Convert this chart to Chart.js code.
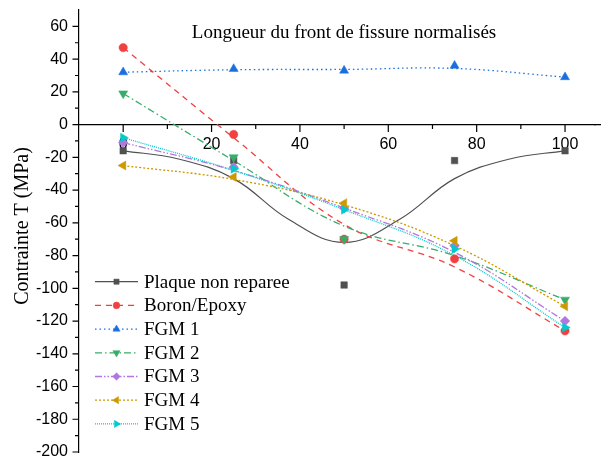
<!DOCTYPE html>
<html><head><meta charset="utf-8">
<script src="https://cdn.jsdelivr.net/npm/chart.js@4.4.0/dist/chart.umd.min.js"></script>
<style>html,body{margin:0;padding:0;background:#fff;overflow:hidden}#wrap{width:601px;height:459px;position:relative}</style>
</head><body><div id="wrap"><canvas id="c"></canvas></div>
<script>
// ---- data ----
const xValues = [0, 25, 50, 75, 100];
const seriesNames = ['Plaque non reparee', 'Boron/Epoxy', 'FGM 1', 'FGM 2', 'FGM 3', 'FGM 4', 'FGM 5'];
const plaque = [-16, -22, -98, -22, -16];
const boron  = [47, -6, -70, -82, -126];
const fgm1   = [32, 34, 33, 36, 29];
const fgm2   = [19, -20, -70, -75, -107];
const fgm3   = [-11, -26, -51, -74, -120];
const fgm4   = [-25, -32, -48, -71, -111];
const fgm5   = [-8, -27, -52, -76, -124];
// smoothed (B-spline) curves as drawn in the picture, read at these x positions
const curveX = [0, 25, 50, 75, 100];
const curveXPlaque = [0, 12.5, 25, 37.5, 50, 62.5, 75, 87.5, 100];
const curvePlaque = [-16, -21, -33, -58, -72, -58, -33, -21, -16];
const curveBoron  = [47, -8, -61, -87, -126];
const curveFgm1   = [32, 33.5, 33.7, 34.3, 29];
const curveFgm2   = [19, -22, -62, -80, -107];
const curveFgm3   = [-11, -28, -51, -78, -120];
const curveFgm4   = [-25, -33.5, -49, -74, -111];
const curveFgm5   = [-8, -28, -52, -80, -124];
const xTicks = [0, 20, 40, 60, 80, 100];
const xMinorTicks = [10, 30, 50, 70, 90];
const yTicks = [-200, -180, -160, -140, -120, -100, -80, -60, -40, -20, 0, 20, 40, 60];
const yMinorTicks = [-190, -170, -150, -130, -110, -90, -70, -50, -30, -10, 10, 30, 50];
const titleText = 'Longueur du front de fissure normalisés';
const yTitleText = 'Contrainte T (MPa)';

// ---- styles ----
const styles = [
  {color: '#515151', dash: [], point: 'rect', rot: 0, r: 4.6},
  {color: '#F14040', dash: [6, 5], point: 'circle', rot: 0, r: 4.2},
  {color: '#1A6FDF', dash: [1.5, 3], point: 'triangle', rot: 0, r: 5.2},
  {color: '#37AD6B', dash: [7, 3, 1.5, 3], point: 'triangle', rot: 180, r: 5.2},
  {color: '#B177DE', dash: [7, 2, 1.5, 2, 1.5, 2], point: 'rectRot', rot: 0, r: 4.8},
  {color: '#CC9900', dash: [2, 2], point: 'triangle', rot: 270, r: 5.2},
  {color: '#00CBCC', dash: [1, 1], point: 'triangle', rot: 90, r: 5.2}
];
const pointSeries = [plaque, boron, fgm1, fgm2, fgm3, fgm4, fgm5];
const curveSeries = [curvePlaque, curveBoron, curveFgm1, curveFgm2, curveFgm3, curveFgm4, curveFgm5];
const curveXs = [curveXPlaque, curveX, curveX, curveX, curveX, curveX, curveX];

const datasets = [];
pointSeries.forEach((arr, i) => {
  const s = styles[i];
  datasets.push({
    label: seriesNames[i],
    data: xValues.map((x, k) => ({x: x, y: arr[k]})),
    showLine: false,
    pointStyle: s.point, rotation: s.rot, pointRadius: s.r,
    backgroundColor: s.color, borderColor: s.color, pointBorderWidth: 0.5,
    order: 7 - i
  });
});
curveSeries.forEach((arr, i) => {
  const s = styles[i];
  datasets.push({
    label: seriesNames[i] + ' curve',
    data: curveXs[i].map((x, k) => ({x: x, y: arr[k]})),
    showLine: true, pointRadius: 0, tension: 0.4,
    borderColor: s.color, borderWidth: i === 0 ? 1.2 : 1.3, borderDash: s.dash,
    fill: false, order: 20 - i
  });
});

const SERIF = '"Liberation Serif", "Times New Roman", serif';
const SANS = '"Liberation Sans", Arial, sans-serif';

function drawMarker(ctx, s, x, y, r) {
  if (Chart.helpers && Chart.helpers.drawPoint) {
    ctx.fillStyle = s.color; ctx.strokeStyle = s.color; ctx.lineWidth = 0.5; ctx.setLineDash([]);
    Chart.helpers.drawPoint(ctx, {pointStyle: s.point, rotation: s.rot, radius: r, borderWidth: 0.5}, x, y);
  }
}

const decor = {
  id: 'decor',
  afterDraw(chart) {
    const ctx = chart.ctx;
    const xs = chart.scales.x, ys = chart.scales.y;
    const y0 = ys.getPixelForValue(0);
    const xl = xs.left;
    ctx.save();
    ctx.strokeStyle = '#000'; ctx.lineWidth = 1.2; ctx.setLineDash([]);
    ctx.beginPath();
    // extend the x axis line to the canvas edge
    ctx.moveTo(xs.right - 1, y0); ctx.lineTo(chart.width, y0);
    xTicks.forEach(v => { const p = xs.getPixelForValue(v); ctx.moveTo(p, y0); ctx.lineTo(p, y0 + 7.5); });
    xMinorTicks.forEach(v => { const p = xs.getPixelForValue(v); ctx.moveTo(p, y0); ctx.lineTo(p, y0 + 4.5); });
    yTicks.forEach(v => { const p = ys.getPixelForValue(v); ctx.moveTo(xl, p); ctx.lineTo(xl - 6.5, p); });
    yMinorTicks.forEach(v => { const p = ys.getPixelForValue(v); ctx.moveTo(xl, p); ctx.lineTo(xl - 4, p); });
    ctx.stroke();
    // titles
    ctx.fillStyle = '#000';
    ctx.font = '19px ' + SERIF;
    ctx.textAlign = 'center'; ctx.textBaseline = 'middle';
    ctx.fillText(titleText, 344, 33);
    ctx.save();
    ctx.translate(23, 226);
    ctx.rotate(-Math.PI / 2);
    ctx.font = '20px ' + SERIF;
    ctx.fillText(yTitleText, 0, 0);
    ctx.restore();
    // legend
    const rowY0 = 281.7, rowDy = 23.7;
    styles.forEach((s, i) => {
      const ry = rowY0 + i * rowDy;
      ctx.strokeStyle = s.color; ctx.lineWidth = 1.3; ctx.setLineDash(s.dash);
      ctx.beginPath(); ctx.moveTo(95, ry); ctx.lineTo(138, ry); ctx.stroke();
      drawMarker(ctx, s, 116.5, ry, s.r * 0.8);
      ctx.fillStyle = '#000';
      ctx.font = '19px ' + SERIF; ctx.textAlign = 'left'; ctx.textBaseline = 'middle';
      ctx.fillText(seriesNames[i], 144, ry + 1);
    });
    ctx.restore();
  }
};

new Chart(document.getElementById('c'), {
  type: 'scatter',
  data: {datasets: datasets},
  options: {
    responsive: true, maintainAspectRatio: false, animation: false,
    layout: {padding: {top: 10, bottom: 7, left: 0, right: 0}},
    plugins: {legend: {display: false}, tooltip: {enabled: false}, title: {display: false}},
    scales: {
      x: {
        type: 'linear', position: {y: 0}, min: -10, max: 106.85,
        afterBuildTicks: s => { s.ticks = xTicks.map(v => ({value: v})); },
        afterFit: s => { s.paddingLeft = 0; s.paddingRight = 0; s.paddingTop = 0; s.paddingBottom = 0; },
        grid: {drawOnChartArea: false, drawTicks: false},
        border: {display: true, color: '#000', width: 1.2},
        ticks: {color: '#000', font: {family: SANS, size: 16}, padding: 10.5, maxRotation: 0, autoSkip: false}
      },
      y: {
        type: 'linear', min: -200, max: 70,
        afterBuildTicks: s => { s.ticks = yTicks.map(v => ({value: v})); },
        afterFit: s => { s.width = 79; s.paddingTop = 0; s.paddingBottom = 0; s.paddingLeft = 0; s.paddingRight = 0; },
        grid: {drawOnChartArea: false, drawTicks: false},
        border: {display: true, color: '#000', width: 1.2},
        ticks: {color: '#000', font: {family: SANS, size: 16}, padding: 11, autoSkip: false}
      }
    }
  },
  plugins: [decor]
});
</script></body></html>
